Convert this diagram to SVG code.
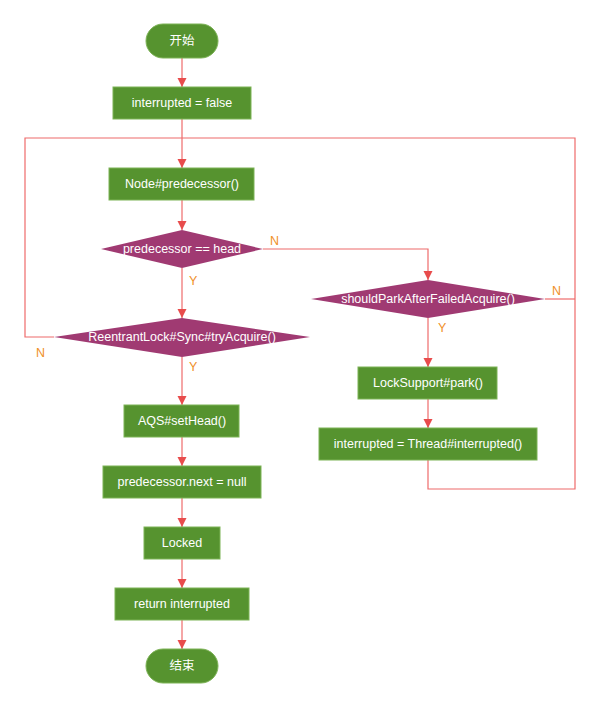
<svg xmlns="http://www.w3.org/2000/svg" width="600" height="708" viewBox="0 0 600 708">
<defs>
<style>
.box{fill:#56932F;stroke:#7DB356;stroke-width:1}
.dia{fill:#A03A72}
.t{fill:#fff;font-family:"Liberation Sans","Noto Sans CJK SC",sans-serif;font-size:12.5px;text-anchor:middle;dominant-baseline:central}
.lbl{fill:#F0902A;font-family:"Liberation Sans",sans-serif;font-size:12.5px}
.c{fill:none;stroke:#EE6B6B;stroke-width:1.2}
.a{marker-end:url(#arr)}
</style>
<marker id="arr" viewBox="0 0 10 10" refX="10" refY="5" markerUnits="userSpaceOnUse" markerWidth="9" markerHeight="11" orient="auto">
<path d="M0,0 L10,5 L0,10 z" fill="#E84C4C"/>
</marker>
</defs>
<rect width="600" height="708" fill="#fff"/>
<g id="connectors">
<path class="c a" d="M182,58 V87"/>
<path class="c a" d="M182,119 V168"/>
<path class="c a" d="M182,200 V230"/>
<path class="c a" d="M182,268 V318"/>
<path class="c a" d="M263,249 H428 V280"/>
<path class="c a" d="M182,357 V405"/>
<path class="c" d="M54,337 H25 V138 H182"/>
<path class="c a" d="M428,318 V367"/>
<path class="c a" d="M428,399 V428"/>
<path class="c" d="M428,460 V489 H575 V138 H182"/>
<path class="c" d="M545,299 H575"/>
<path class="c a" d="M182,437 V466"/>
<path class="c a" d="M182,498 V527"/>
<path class="c a" d="M182,559 V588"/>
<path class="c a" d="M182,620 V649"/>
<text class="lbl" x="270" y="245">N</text>
<text class="lbl" x="189" y="285">Y</text>
<text class="lbl" x="36" y="357">N</text>
<text class="lbl" x="189" y="371">Y</text>
<text class="lbl" x="552" y="295">N</text>
<text class="lbl" x="438" y="332">Y</text>
</g>
<g id="start"><rect class="box" x="146" y="24" width="72" height="34" rx="17"/><text class="t" x="182" y="41">开始</text></g>
<g id="init"><rect class="box" x="113" y="87" width="138" height="32"/><text class="t" x="182" y="103">interrupted = false</text></g>
<g id="pred"><rect class="box" x="109" y="168" width="145" height="32"/><text class="t" x="182" y="184">Node#predecessor()</text></g>
<g id="d1"><polygon class="dia" points="182,230 263,249 182,268 101,249"/><text class="t" x="182" y="249">predecessor == head</text></g>
<g id="d2"><polygon class="dia" points="182,318 310,337 182,357 54,337"/><text class="t" x="182" y="337">ReentrantLock#Sync#tryAcquire()</text></g>
<g id="d3"><polygon class="dia" points="428,280 545,299 428,318 311,299"/><text class="t" x="428" y="299">shouldParkAfterFailedAcquire()</text></g>
<g id="park"><rect class="box" x="358" y="367" width="139" height="32"/><text class="t" x="428" y="383">LockSupport#park()</text></g>
<g id="intr"><rect class="box" x="319" y="428" width="218" height="32"/><text class="t" x="428" y="444">interrupted = Thread#interrupted()</text></g>
<g id="sethead"><rect class="box" x="124" y="405" width="115" height="32"/><text class="t" x="182" y="421">AQS#setHead()</text></g>
<g id="pnext"><rect class="box" x="103" y="466" width="158" height="32"/><text class="t" x="182" y="482">predecessor.next = null</text></g>
<g id="locked"><rect class="box" x="144" y="527" width="76" height="32"/><text class="t" x="182" y="543">Locked</text></g>
<g id="ret"><rect class="box" x="115" y="588" width="134" height="32"/><text class="t" x="182" y="604">return interrupted</text></g>
<g id="end"><rect class="box" x="146" y="649" width="72" height="34" rx="17"/><text class="t" x="182" y="666">结束</text></g>
</svg>
